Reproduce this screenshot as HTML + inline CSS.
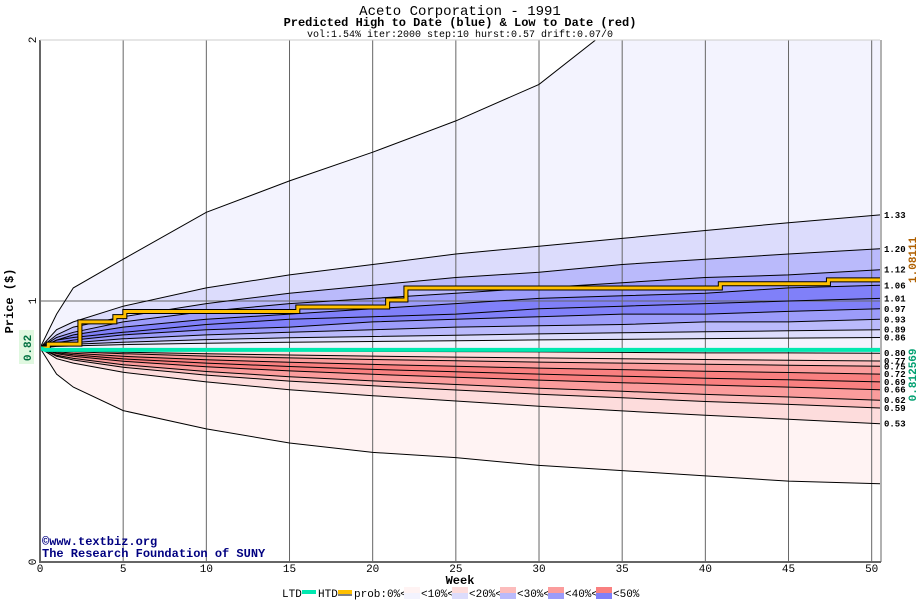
<!DOCTYPE html>
<html><head><meta charset="utf-8"><style>
body{margin:0;background:#fff;}
svg{display:block;font-family:"Liberation Mono",monospace;}
</style></head><body>
<svg id="chart" width="920" height="600" xmlns="http://www.w3.org/2000/svg">
<text x="460" y="15" text-anchor="middle" font-size="14">Aceto Corporation - 1991</text>
<text x="460" y="26" text-anchor="middle" font-size="12" font-weight="bold">Predicted High to Date (blue) &amp;  Low to Date (red)</text>
<text x="460" y="37" text-anchor="middle" font-size="10">vol:1.54% iter:2000 step:10 hurst:0.57 drift:0.07/0</text>
<g id="plot"></g>
<text transform="translate(13,301) rotate(-90)" text-anchor="middle" font-size="12" font-weight="bold">Price ($)</text>
<text x="460" y="584" text-anchor="middle" font-size="12" font-weight="bold">Week</text>
<text x="42" y="545" font-size="12" font-weight="bold" fill="#000080">©www.textbiz.org</text>
<text x="42" y="557" font-size="12" font-weight="bold" fill="#000080">The Research Foundation of SUNY</text>
<g id="legend"></g>
</svg>
<script>
const weeks=[0,1,2,5,10,15,20,25,30,35,40,45,50.5];
const maxLine=[0.82,0.95,1.05,1.16,1.34,1.46,1.57,1.69,1.83,2.08,2.2,2.32,2.45];
const minLine=[0.82,0.72,0.67,0.58,0.51,0.456,0.42,0.40,0.37,0.35,0.33,0.31,0.30];
const blue133=[0.82,0.89,0.92,0.98,1.05,1.10,1.14,1.18,1.21,1.24,1.27,1.30,1.33];
const blue120=[0.82,0.87,0.90,0.94,0.99,1.03,1.06,1.09,1.11,1.14,1.16,1.18,1.20];
const blue112=[0.82,0.86,0.88,0.92,0.96,0.99,1.01,1.03,1.05,1.07,1.09,1.10,1.12];
const blue106=[0.82,0.85,0.87,0.90,0.93,0.95,0.97,0.99,1.01,1.02,1.03,1.05,1.06];
const blue101=[0.82,0.85,0.86,0.88,0.91,0.93,0.94,0.95,0.97,0.98,0.99,1.00,1.01];
const blue097=[0.82,0.84,0.85,0.87,0.89,0.90,0.92,0.93,0.94,0.95,0.95,0.96,0.97];
const blue093=[0.82,0.835,0.84,0.855,0.87,0.88,0.89,0.90,0.905,0.91,0.92,0.92,0.93];
const blue089=[0.82,0.83,0.834,0.842,0.852,0.859,0.864,0.869,0.874,0.878,0.882,0.886,0.89];
const blue086=[0.82,0.826,0.828,0.833,0.838,0.842,0.845,0.848,0.851,0.853,0.856,0.858,0.86];
const red080=[0.82,0.817,0.816,0.814,0.811,0.809,0.807,0.806,0.805,0.803,0.801,0.801,0.80];
const red077=[0.82,0.813,0.81,0.804,0.798,0.793,0.789,0.785,0.782,0.779,0.776,0.773,0.77];
const red075=[0.82,0.81,0.806,0.798,0.789,0.782,0.776,0.771,0.766,0.762,0.758,0.754,0.75];
const red072=[0.82,0.806,0.80,0.788,0.775,0.765,0.757,0.75,0.743,0.737,0.731,0.726,0.72];
const red069=[0.82,0.802,0.794,0.778,0.762,0.749,0.738,0.729,0.72,0.712,0.704,0.698,0.69];
const red066=[0.82,0.798,0.788,0.769,0.748,0.732,0.719,0.708,0.697,0.687,0.678,0.67,0.66];
const red062=[0.82,0.792,0.78,0.756,0.73,0.71,0.694,0.68,0.666,0.654,0.642,0.632,0.62];
const red059=[0.82,0.788,0.774,0.746,0.716,0.693,0.675,0.659,0.643,0.629,0.615,0.604,0.59];
const red053=[0.82,0.779,0.762,0.727,0.69,0.66,0.637,0.617,0.597,0.579,0.562,0.547,0.53];
const endLabels=["1.33","1.20","1.12","1.06","1.01","0.97","0.93","0.89","0.86","0.80","0.77","0.75","0.72","0.69","0.66","0.62","0.59","0.53"];
const htdWeeks=[0,0.5,2.4,4.5,5.1,15.5,20.9,22,40.9,47.4,50.5];
const htdVals=[0.82,0.835,0.92,0.94,0.96,0.977,1.004,1.05,1.066,1.081,1.081];
const ltdWeeks=[0,0.3,50.5];
const ltdVals=[0.82,0.8126,0.8126];
const xTicks=[0,5,10,15,20,25,30,35,40,45,50];
const yTicks=[0,1,2];
const startPrice=0.82, htdFinal="1.08111", ltdFinal="0.812569";

const X0=40,X1=880,Y0=562,Y1=40,XMAX=50.5,YMAX=2;
const sx=w=>X0+w/XMAX*(X1-X0);
const sy=p=>Y0-p/YMAX*(Y0-Y1);
const NS="http://www.w3.org/2000/svg";
const plot=document.getElementById('plot');
function mk(tag,attrs,parent){const e=document.createElementNS(NS,tag);for(const k in attrs)e.setAttribute(k,attrs[k]);(parent||plot).appendChild(e);return e;}
const defs=mk('defs',{});
const cp=mk('clipPath',{id:'clip'},defs);
mk('rect',{x:X0,y:Y1,width:X1-X0,height:Y0-Y1},cp);
const g=mk('g',{'clip-path':'url(#clip)'});

const upper=[maxLine,blue133,blue120,blue112,blue106,blue101,blue097,blue093,blue089,blue086,red080,red077,red075,red072,red069,red066,red062,red059,red053,minLine];
const names=["max","q133","q120","q112","q106","q101","q097","q093","q089","q086","q080","q077","q075","q072","q069","q066","q062","q059","q053","min"];
const fills=["#f3f3fe","#dcdcfc","#babafb","#9c9cfa","#8080f9","#8080f9","#9c9cfa","#babafb","#dcdcfc","#f3f3fe","#fddcdc","#fcbcbc","#fb9c9c","#f98080","#f98080","#fb9c9c","#fcbcbc","#fddcdc","#fff3f3"];
const pts=arr=>arr.map((v,i)=>sx(weeks[i]).toFixed(1)+','+sy(v).toFixed(1));
for(let i=0;i<upper.length-1;i++){
  const a=pts(upper[i]),b=pts(upper[i+1]).reverse();
  const p=mk('polygon',{points:a.concat(b).join(' '),fill:fills[i]},g);
  
  
}
xTicks.forEach(t=>{if(t>0){const l=mk('line',{x1:sx(t),x2:sx(t),y1:Y1,y2:Y0,stroke:'#666','stroke-width':1},g);

}});
mk('line',{x1:X0,x2:X1,y1:sy(1),y2:sy(1),stroke:'#666','stroke-width':1},g);
upper.forEach((arr,i)=>{
  const l=mk('polyline',{points:pts(arr).join(' '),fill:'none',stroke:'#000','stroke-width':1},g);
  
  
});
function stepPts(ws,vs){const out=[];for(let i=0;i<ws.length;i++){if(i>0)out.push(sx(ws[i])+','+sy(vs[i-1]));out.push(sx(ws[i])+','+sy(vs[i]));}return out.join(' ');}
mk('polyline',{points:stepPts(htdWeeks,htdVals),fill:'none',stroke:'#000','stroke-width':5},g);
const htd=mk('polyline',{points:stepPts(htdWeeks,htdVals),fill:'none',stroke:'#ffc000','stroke-width':3},g);


const ltd=mk('polyline',{points:ltdWeeks.map((w,i)=>sx(w)+','+sy(ltdVals[i])).join(' '),fill:'none',stroke:'#00e8b0','stroke-width':4},g);


mk('line',{x1:X0,x2:X0,y1:Y1,y2:Y0+1,stroke:'#666','stroke-width':2});
mk('line',{x1:X0,x2:X1+1,y1:Y0,y2:Y0,stroke:'#666','stroke-width':2});
mk('line',{x1:X1+1,x2:X1+1,y1:Y1,y2:Y0,stroke:'#666','stroke-width':1});
mk('line',{x1:X0,x2:X1,y1:Y1,y2:Y1,stroke:'#ccc','stroke-width':1});
xTicks.forEach(t=>{const e=mk('text',{x:sx(t),y:572,'text-anchor':'middle','font-size':11});e.textContent=t;

});
yTicks.forEach(t=>{const e=mk('text',{transform:`translate(36,${sy(t)}) rotate(-90)`,'text-anchor':'middle','font-size':11});e.textContent=t;

});
mk('rect',{x:19,y:sy(startPrice)-18,width:15,height:34,fill:'#e0f8e0'});
const sp=mk('text',{transform:`translate(31,${sy(startPrice)}) rotate(-90)`,'text-anchor':'middle','font-size':11,'font-weight':'bold',fill:'#007040'});
sp.textContent=startPrice.toFixed(2);


const endArrs=[blue133,blue120,blue112,blue106,blue101,blue097,blue093,blue089,blue086,red080,red077,red075,red072,red069,red066,red062,red059,red053];
endArrs.forEach((a,i)=>{const e=mk('text',{x:884,y:sy(a[a.length-1])+3,'font-size':9,'font-weight':'bold'});e.textContent=endLabels[i];

});
const h=mk('text',{transform:`translate(916,${sy(htdVals[htdVals.length-1])-20}) rotate(-90)`,'text-anchor':'middle','font-size':11,'font-weight':'bold',fill:'#b06000'});
h.textContent=htdFinal;


const lt=mk('text',{transform:`translate(916,${sy(ltdVals[ltdVals.length-1])+25}) rotate(-90)`,'text-anchor':'middle','font-size':11,'font-weight':'bold',fill:'#00a070'});
lt.textContent=ltdFinal;


const lg=document.getElementById('legend');
function lt2(x,s){const e=mk('text',{x:x,y:597,'font-size':11},lg);e.textContent=s;return e;}
lt2(282,'LTD');mk('rect',{x:302,y:590,width:14,height:4,fill:'#00e8b0'},lg);
lt2(318,'HTD');mk('rect',{x:338,y:590,width:14,height:4,fill:'#ffc000'},lg);mk('line',{x1:338,x2:352,y1:595,y2:595,stroke:'#000'},lg);
lt2(354,'prob:0%<');
const lgc=[["#fff3f3","#f3f3fe","<10%<"],["#fddcdc","#dcdcfc","<20%<"],["#fcbcbc","#babafb","<30%<"],["#fb9c9c","#9c9cfa","<40%<"],["#f98080","#8080f9","<50%"]];
lgc.forEach((c,i)=>{const x=404+i*48;mk('rect',{x:x,y:587,width:16,height:6,fill:c[0]},lg);mk('rect',{x:x,y:593,width:16,height:6,fill:c[1]},lg);
const e=lt2(x+17,c[2]);

});
</script>
</body></html>
